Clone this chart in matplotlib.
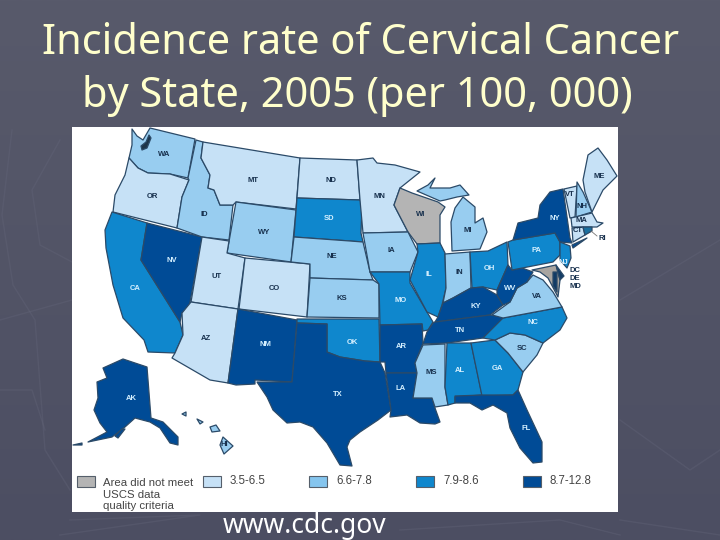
import matplotlib
matplotlib.use("Agg")
import matplotlib.pyplot as plt
from matplotlib.patches import Polygon, Rectangle
import numpy as np

GRAY, LIGHT, MID, STRONG, DARK = "#b4b4b4", "#c6e1f6", "#98cdf0", "#0f87cd", "#004b96"
EDGE = "#2b4a68"

title_lines = ["Incidence rate of Cervical Cancer", "by State, 2005 (per 100, 000)"]
source_text = "www.cdc.gov"

# rate band of every state
bands = {
    "WA": MID, "OR": LIGHT, "CA": STRONG, "NV": DARK, "ID": MID, "MT": LIGHT, "WY": MID,
    "UT": LIGHT, "CO": LIGHT, "AZ": LIGHT, "NM": DARK, "ND": LIGHT, "SD": STRONG, "NE": MID,
    "KS": MID, "OK": STRONG, "TX": DARK, "MN": LIGHT, "IA": MID, "MO": STRONG, "AR": DARK,
    "LA": DARK, "WI": GRAY, "IL": STRONG, "MI": MID, "IN": MID, "OH": STRONG, "KY": DARK,
    "TN": DARK, "MS": MID, "AL": STRONG, "GA": STRONG, "FL": DARK, "SC": MID, "NC": STRONG,
    "VA": MID, "WV": DARK, "PA": STRONG, "NY": DARK, "VT": LIGHT, "NH": MID, "ME": LIGHT,
    "MA": LIGHT, "CT": LIGHT, "RI": "#1a6f9f", "NJ": STRONG, "MD": "#a9a5a0", "DE": "#123c66",
    "AK": DARK, "HI": MID, "CB": "#123c66", "PS": "#1d3448",
}

# outlines, in image pixels
shapes = {
    "WA": [(132, 129), (137, 136), (143, 140), (150, 128), (195, 139), (188, 178), (170, 174), (148, 173), (138, 168), (129, 158), (132, 145)],
    "PS": [(149, 135), (151, 138), (147, 148), (142, 150), (141, 146), (146, 142)],
    "OR": [(129, 158), (138, 168), (148, 173), (170, 174), (189, 180), (182, 197), (177, 228), (113, 212), (115, 195), (125, 175)],
    "CA": [(112, 212), (147, 223), (141, 260), (180, 322), (183, 335), (175, 353), (148, 352), (144, 340), (123, 318), (113, 285), (106, 248), (105, 230)],
    "NV": [(147, 223), (202, 237), (188, 313), (182, 313), (180, 322), (141, 260)],
    "ID": [(196, 140), (203, 142), (201, 158), (210, 175), (208, 188), (214, 190), (220, 205), (233, 205), (229, 240), (202, 237), (177, 228), (182, 197), (189, 180), (188, 178)],
    "MT": [(203, 142), (300, 158), (296, 209), (236, 202), (233, 205), (220, 205), (214, 190), (208, 188), (210, 175), (201, 158)],
    "WY": [(236, 202), (296, 210), (291, 262), (227, 253)],
    "UT": [(202, 237), (229, 241), (227, 253), (245, 258), (238, 309), (191, 302)],
    "CO": [(245, 258), (310, 264), (307, 317), (239, 309)],
    "AZ": [(182, 313), (191, 302), (238, 309), (228, 383), (210, 380), (172, 358), (175, 353), (183, 335)],
    "NM": [(238, 309), (297, 320), (292, 382), (255, 380), (255, 384), (236, 385), (228, 383)],
    "ND": [(300, 158), (357, 160), (360, 200), (297, 198)],
    "SD": [(297, 198), (360, 200), (362, 205), (361, 233), (363, 242), (350, 241), (294, 237)],
    "NE": [(294, 237), (350, 241), (363, 242), (370, 272), (373, 280), (340, 279), (310, 278), (310, 264), (291, 262)],
    "KS": [(310, 278), (373, 280), (379, 284), (379, 318), (307, 317)],
    "OK": [(297, 319), (379, 319), (380, 362), (365, 361), (340, 357), (327, 352), (327, 324), (297, 323)],
    "TX": [(297, 323), (327, 324), (327, 352), (340, 357), (365, 361), (380, 362), (385, 373), (391, 410), (378, 420), (360, 432), (350, 440), (347, 447), (352, 466), (340, 465), (327, 443), (313, 427), (300, 422), (287, 423), (273, 410), (267, 397), (257, 382), (292, 382)],
    "MN": [(357, 160), (373, 158), (377, 163), (395, 165), (420, 172), (400, 188), (394, 205), (408, 232), (363, 233), (360, 200)],
    "WI": [(400, 188), (412, 193), (438, 202), (445, 207), (440, 215), (440, 243), (417, 244), (408, 232), (394, 205)],
    "IA": [(363, 233), (408, 232), (418, 252), (410, 272), (370, 272)],
    "MO": [(370, 272), (410, 272), (410, 283), (427, 312), (433, 322), (428, 330), (423, 331), (422, 324), (380, 325), (379, 284)],
    "AR": [(380, 325), (422, 324), (423, 343), (415, 363), (417, 373), (386, 373), (385, 362), (380, 362)],
    "LA": [(386, 373), (417, 373), (413, 398), (432, 398), (435, 408), (440, 422), (435, 424), (420, 423), (407, 415), (390, 417), (391, 410)],
    "IL": [(417, 244), (440, 243), (445, 253), (446, 288), (442, 305), (438, 317), (427, 312), (410, 280), (418, 252)],
    "IN": [(445, 254), (470, 252), (471, 288), (453, 298), (443, 303), (446, 288)],
    "MI": [(452, 251), (451, 222), (455, 208), (463, 197), (475, 207), (475, 223), (483, 218), (487, 232), (480, 249)],
    "MI2": [(417, 191), (428, 185), (435, 178), (430, 188), (450, 188), (460, 185), (469, 195), (457, 197), (445, 200), (440, 201)],
    "OH": [(470, 252), (488, 251), (507, 242), (508, 265), (497, 290), (483, 287), (472, 288)],
    "KY": [(443, 303), (453, 298), (471, 288), (483, 287), (497, 295), (503, 305), (490, 315), (435, 322), (438, 317)],
    "TN": [(435, 322), (490, 315), (507, 317), (503, 320), (483, 338), (447, 343), (423, 344), (427, 332), (433, 323)],
    "MS": [(423, 345), (445, 344), (445, 387), (448, 405), (435, 407), (432, 398), (413, 398), (417, 373), (415, 363)],
    "AL": [(447, 343), (471, 343), (482, 395), (455, 397), (455, 403), (448, 405), (445, 387)],
    "GA": [(471, 343), (495, 340), (508, 353), (523, 372), (518, 390), (513, 395), (482, 396)],
    "FL": [(455, 396), (482, 395), (513, 395), (518, 390), (527, 410), (542, 442), (542, 462), (533, 463), (520, 448), (510, 428), (507, 413), (493, 405), (482, 410), (470, 403), (455, 403)],
    "SC": [(495, 340), (510, 333), (525, 335), (543, 343), (537, 355), (523, 372), (508, 353)],
    "NC": [(503, 318), (562, 307), (567, 318), (560, 330), (543, 343), (525, 335), (510, 333), (495, 340), (483, 338)],
    "VA": [(492, 315), (510, 302), (517, 288), (527, 282), (533, 275), (543, 280), (553, 292), (562, 307), (503, 318)],
    "WV": [(508, 265), (512, 270), (522, 268), (533, 272), (527, 282), (517, 288), (510, 302), (503, 305), (497, 295), (497, 290)],
    "PA": [(508, 242), (513, 240), (555, 233), (560, 242), (560, 255), (553, 262), (512, 270)],
    "NY": [(513, 240), (518, 223), (538, 218), (540, 205), (550, 192), (563, 189), (570, 238), (572, 243), (560, 242), (555, 233)],
    "NY2": [(572, 245), (587, 238), (573, 248)],
    "NJ": [(560, 242), (570, 246), (571, 258), (567, 268), (560, 260)],
    "VT": [(564, 189), (577, 186), (575, 217), (570, 218)],
    "NH": [(577, 182), (583, 192), (592, 212), (576, 217)],
    "ME": [(583, 180), (588, 155), (598, 148), (607, 160), (617, 176), (603, 190), (592, 212), (585, 192)],
    "MA": [(571, 218), (592, 213), (597, 222), (603, 223), (597, 227), (572, 227)],
    "CT": [(572, 228), (583, 227), (585, 235), (573, 242)],
    "RI": [(583, 227), (592, 227), (592, 231), (585, 235)],
    "MD": [(532, 270), (556, 265), (560, 280), (558, 297), (548, 278), (540, 272)],
    "CB": [(553, 272), (557, 272), (557, 292), (553, 286)],
    "DE": [(556, 265), (564, 276), (560, 280)],
    "AK": [(103, 368), (123, 359), (147, 367), (151, 418), (163, 422), (178, 437), (178, 445), (170, 443), (160, 428), (150, 422), (135, 418), (125, 427), (112, 437), (88, 442), (107, 432), (100, 423), (94, 410), (98, 398), (97, 382), (107, 378)],
    "AK2": [(122, 429), (125, 429), (118, 438), (115, 436)],
    "AK3": [(73, 445), (82, 443), (82, 445)],
    "HI": [(223, 437), (233, 446), (224, 454), (220, 445)],
    "HI2": [(210, 427), (216, 425), (220, 431), (212, 432)],
    "HI3": [(197, 419), (203, 422), (200, 424)],
    "HI4": [(182, 414), (186, 412), (186, 416)],
}

# state labels and where they sit
label_names = ["WA", "OR", "CA", "NV", "ID", "MT", "WY", "UT", "CO", "AZ", "NM", "ND", "SD", "NE", "KS", "OK", "TX",
               "MN", "IA", "MO", "AR", "LA", "WI", "IL", "MI", "IN", "OH", "KY", "TN", "MS", "AL", "GA", "FL", "SC",
               "NC", "VA", "WV", "PA", "NY", "VT", "NH", "ME", "MA", "CT", "NJ", "RI", "DC", "DE", "MD", "AK", "HI"]
label_x = [164, 152, 135, 172, 204, 253, 264, 217, 274, 206, 265, 331, 329, 332, 342, 352, 338,
           379, 391, 401, 401, 401, 421, 429, 468, 459, 489, 476, 460, 431, 460, 497, 526, 522,
           533, 537, 510, 536, 555, 570, 582, 599, 581, 578, 563, 602, 575, 575, 575, 131, 224]
label_y = [155, 196, 288, 261, 215, 180, 233, 277, 288, 339, 344, 180, 219, 257, 298, 342, 394,
           197, 251, 300, 346, 388, 214, 275, 230, 273, 268, 306, 331, 372, 371, 368, 429, 348,
           323, 297, 288, 251, 218, 194, 207, 176, 220, 231, 263, 238, 271, 278, 286, 399, 445]
outside_labels = ["RI", "DC", "DE", "MD"]

legend_colors = [GRAY, LIGHT, "#85c5ee", STRONG, DARK]
legend_x = [77, 203, 309, 416, 523]
legend_labels = ["", "3.5-6.5", "6.6-7.8", "7.9-8.6", "8.7-12.8"]
legend_note = ["Area did not meet", "USCS data", "quality criteria"]

# faint streaks of the slide background
streaks = [
    [(12, 130), (2, 215), (13, 285), (35, 320), (45, 450), (70, 490)],
    [(60, 140), (32, 190), (40, 245), (72, 262)],
    [(0, 390), (32, 390), (45, 430)],
    [(0, 320), (72, 300)],
    [(70, 520), (200, 515), (60, 535)],
    [(620, 520), (720, 535)],
    [(400, 530), (560, 520), (620, 535)],
    [(620, 300), (720, 240)],
    [(620, 420), (690, 470), (720, 450)],
]

fig = plt.figure(figsize=(7.2, 5.4), dpi=100)
ax = fig.add_axes([0, 0, 1, 1])
ax.set_xlim(0, 720)
ax.set_ylim(540, 0)
ax.axis("off")

# slide background, slightly lighter at the top
shade = np.linspace(0, 1, 256).reshape(-1, 1)
cmap = matplotlib.colors.LinearSegmentedColormap.from_list("slide", ["#585a6b", "#4c4e62"])
ax.imshow(shade, cmap=cmap, extent=[0, 720, 540, 0], aspect="auto", zorder=0)
for streak in streaks:
    ax.plot(*zip(*streak), color="#64667a", linewidth=1.0, alpha=0.35, zorder=0.5)

ax.text(360.5, 54, title_lines[0], color="#ffffcc", fontsize=29.9, family="Noto Sans", ha="center", va="baseline", zorder=5)
ax.text(357, 107, title_lines[1], color="#ffffcc", fontsize=29.9, family="Noto Sans", ha="center", va="baseline", zorder=5)
ax.text(305, 533.5, source_text, color="white", fontsize=19, family="Noto Sans", ha="center", va="baseline", zorder=5)

ax.add_patch(Rectangle((72, 127), 546, 385, facecolor="white", edgecolor="none", zorder=1))

for name, points in shapes.items():
    ax.add_patch(Polygon(points, closed=True, facecolor=bands[name[:2]], edgecolor=EDGE, linewidth=0.9, joinstyle="round", zorder=2))

# leader of the RI label
ax.plot([591, 597], [231, 236], color="#777777", linewidth=0.6, zorder=3)

for name, x, y in zip(label_names, label_x, label_y):
    on_dark = bands.get(name) in (STRONG, DARK) and name not in outside_labels
    ax.text(x, y, name, color="#d5f0ff" if on_dark else "#17304d", fontsize=5.5, fontweight="bold",
            family="Liberation Sans", ha="center", va="center", zorder=4)

for color, x, label in zip(legend_colors, legend_x, legend_labels):
    ax.add_patch(Rectangle((x, 476), 18, 11, facecolor=color, edgecolor="#555f6b", linewidth=0.8, zorder=3))
    if label:
        ax.text(x + 27, 481.5, label, color="#444444", fontsize=8.3, family="Liberation Sans", va="center", zorder=4)
for i, line in enumerate(legend_note):
    ax.text(103, 483.5 + i * 11.3, line, color="#444444", fontsize=8.2, family="Liberation Sans", va="center", zorder=4)

fig.savefig("out.png", dpi=100)
